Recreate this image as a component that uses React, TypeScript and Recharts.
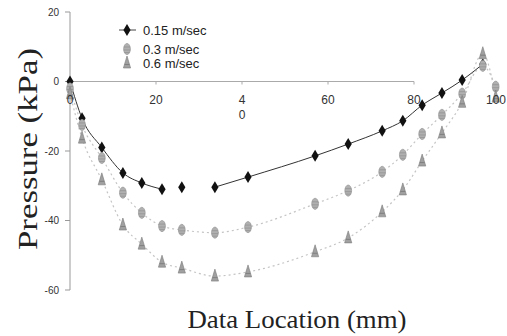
import React from 'react';
import { ComposedChart, Line, Scatter, XAxis, YAxis, ReferenceLine, Legend } from 'recharts';

// ---- data ----
const LOCATIONS = [0, 2.8, 7.4, 12.3, 16.7, 21.4, 26, 33.7, 41.4, 57, 64.7, 72.6, 77.4, 81.9, 86.5, 91.2, 96, 99];
const SPEED_015 = [0, -10.6, -19, -26.3, -29.2, -31, -30.4, -30.4, -27.5, -21.4, -18, -14.2, -11.3, -6.8, -3.3, 0.4, 5, null];
const SPEED_03 = [-2, -12.5, -22, -32, -37.8, -41.6, -42.7, -43.5, -41.9, -35.2, -31.4, -26, -21.1, -15.1, -9.6, -3.5, 4.5, -1.5];
const SPEED_06 = [-3.5, -16.3, -28.3, -41.3, -46.8, -52, -53.7, -56, -54.8, -49, -45, -37.5, -31.2, -22.9, -14.8, -6, 8, -4.5];
const TREND_015_GAP = [26]; // location where the 0.15 trend line is broken
const SERIES_NAMES = ['0.15 m/sec', '0.3 m/sec', '0.6 m/sec'];
const X_TICKS = [0, 20, 40, 60, 80, 100];
const X_TICK_LABELS = ['0', '20', '4\n0', '60', '80', '100'];
const Y_TICKS = [20, 0, -20, -40, -60];
const Y_DOMAIN: [number, number] = [-60, 20];
const X_DOMAIN: [number, number] = [0, 100];

const chartData = LOCATIONS.map((x, i) => ({
  x,
  a: SPEED_015[i],
  b: SPEED_03[i],
  c: SPEED_06[i],
  aLine: TREND_015_GAP.includes(x) ? null : SPEED_015[i],
}));

// ---- layout ----
const W = 507;
const H = 336;
const MARGIN = { top: 12, right: 7, bottom: 0, left: 0 };
const Y_AXIS_W = 70;
const X_AXIS_H = 46;
const PLOT_H = H - MARGIN.top - MARGIN.bottom - X_AXIS_H;
const ZERO_Y = MARGIN.top + (PLOT_H * (Y_DOMAIN[1] - 0)) / (Y_DOMAIN[1] - Y_DOMAIN[0]);

const SANS = 'Liberation Sans, Arial, sans-serif';
const SERIF = 'Liberation Serif, Times New Roman, serif';

const Diamond = (p: any) => {
  const { cx, cy } = p;
  if (cx == null || cy == null) return null;
  return <polygon points={`${cx},${cy - 6} ${cx + 3.6},${cy} ${cx},${cy + 6} ${cx - 3.6},${cy}`} fill="#111" />;
};
const Oval = (p: any) => {
  const { cx, cy } = p;
  if (cx == null || cy == null) return null;
  return (
    <g>
      <ellipse cx={cx} cy={cy} rx={3.4} ry={5.6} fill="#b0b0b0" stroke="#909090" strokeWidth={0.6} />
      <line x1={cx - 3} y1={cy - 2} x2={cx + 3} y2={cy - 2} stroke="#8a8a8a" strokeWidth={0.6} />
      <line x1={cx - 3.3} y1={cy + 1} x2={cx + 3.3} y2={cy + 1} stroke="#8a8a8a" strokeWidth={0.6} />
      <line x1={cx - 2.6} y1={cy + 3.5} x2={cx + 2.6} y2={cy + 3.5} stroke="#8a8a8a" strokeWidth={0.6} />
    </g>
  );
};
const Tri = (p: any) => {
  const { cx, cy } = p;
  if (cx == null || cy == null) return null;
  return (
    <g>
      <polygon points={`${cx},${cy - 7} ${cx + 3.6},${cy + 5} ${cx - 3.6},${cy + 5}`} fill="#a0a0a0" stroke="#7a7a7a" strokeWidth={0.6} />
      <line x1={cx - 2.4} y1={cy + 1.5} x2={cx + 2.4} y2={cy + 1.5} stroke="#6a6a6a" strokeWidth={0.6} />
    </g>
  );
};

const XTick = (props: any) => {
  const { x, payload } = props;
  const idx = X_TICKS.indexOf(payload.value);
  const label = idx >= 0 ? X_TICK_LABELS[idx] : String(payload.value);
  const lines = label.split('\n');
  const isLast = idx === X_TICKS.length - 1;
  return (
    <g>
      {payload.value > 0 && payload.value <= 80 && (
        <line x1={x} y1={ZERO_Y} x2={x} y2={ZERO_Y + 3} stroke="#aaa" strokeWidth={1} />
      )}
      {lines.map((t: string, i: number) => (
        <text
          key={i}
          x={isLast ? W - 1 : x}
          y={ZERO_Y + 22 + i * 15}
          textAnchor={isLast ? 'end' : 'middle'}
          fontSize={12}
          fontFamily={SANS}
          fill="#333"
        >
          {t}
        </text>
      ))}
    </g>
  );
};

const YLabel = () => (
  <text
    x={37}
    y={149}
    transform="rotate(-90 37 149)"
    textAnchor="middle"
    fontSize={28}
    fontFamily={SERIF}
    fill="#222"
    textLength={202}
    lengthAdjust="spacingAndGlyphs"
  >
    Pressure (kPa)
  </text>
);

const XLabel = () => (
  <text
    x={297}
    y={328}
    textAnchor="middle"
    fontSize={25}
    fontFamily={SERIF}
    fill="#222"
    textLength={219}
    lengthAdjust="spacingAndGlyphs"
  >
    Data Location (mm)
  </text>
);

const LEGEND_ROWS_Y = [30, 49, 63];
const LEGEND_SHAPES = [Diamond, Oval, Tri];

const LegendContent = () => (
  <svg width={240} height={80} style={{ display: 'block' }}>
    <line x1={119} y1={LEGEND_ROWS_Y[0]} x2={136} y2={LEGEND_ROWS_Y[0]} stroke="#444" strokeWidth={1} />
    {SERIES_NAMES.map((name, i) => {
      const Shape = LEGEND_SHAPES[i];
      return (
        <g key={name}>
          <Shape cx={127} cy={LEGEND_ROWS_Y[i]} />
          <text x={143} y={LEGEND_ROWS_Y[i] + 4.5} fontSize={13} fontFamily={SANS} fill="#222">
            {name}
          </text>
        </g>
      );
    })}
  </svg>
);

export default function App() {
  return (
    <div style={{ position: 'absolute', left: 0, top: 0, width: W, height: H, background: '#fff' }}>
      <ComposedChart width={W} height={H} data={chartData} margin={MARGIN}>
        <XAxis
          type="number"
          dataKey="x"
          domain={X_DOMAIN}
          ticks={X_TICKS}
          axisLine={false}
          tickLine={false}
          tick={<XTick />}
          height={X_AXIS_H}
          interval={0}
          label={<XLabel />}
        />
        <YAxis
          type="number"
          domain={Y_DOMAIN}
          ticks={Y_TICKS}
          width={Y_AXIS_W}
          interval={0}
          tickSize={5}
          tickMargin={6}
          stroke="#999"
          tick={{ fontSize: 10, fill: '#333', fontFamily: SANS }}
          label={<YLabel />}
        />
        <ReferenceLine
          segment={[{ x: 0, y: 0 }, { x: 80, y: 0 }]}
          stroke="#aaa"
          strokeWidth={1}
        />
        <Legend
          layout="horizontal"
          verticalAlign="middle"
          align="center"
          content={<LegendContent />}
          wrapperStyle={{ left: 0, top: 0, width: 240, height: 80 }}
        />
        <Line
          dataKey="c"
          type="monotone"
          stroke="#c4c4c4"
          strokeWidth={1.2}
          strokeDasharray="2 3"
          dot={false}
          activeDot={false}
          legendType="none"
          connectNulls
          isAnimationActive={false}
        />
        <Line
          dataKey="b"
          type="monotone"
          stroke="#c4c4c4"
          strokeWidth={1.2}
          strokeDasharray="2 3"
          dot={false}
          activeDot={false}
          legendType="none"
          connectNulls
          isAnimationActive={false}
        />
        <Line
          dataKey="aLine"
          type="monotone"
          stroke="#333"
          strokeWidth={1}
          dot={false}
          activeDot={false}
          legendType="none"
          isAnimationActive={false}
        />
        <Scatter name={SERIES_NAMES[0]} data={chartData.filter((d) => d.a != null)} dataKey="a" shape={<Diamond />} isAnimationActive={false} />
        <Scatter name={SERIES_NAMES[1]} data={chartData.filter((d) => d.b != null)} dataKey="b" shape={<Oval />} isAnimationActive={false} />
        <Scatter name={SERIES_NAMES[2]} data={chartData.filter((d) => d.c != null)} dataKey="c" shape={<Tri />} isAnimationActive={false} />
      </ComposedChart>
    </div>
  );
}
